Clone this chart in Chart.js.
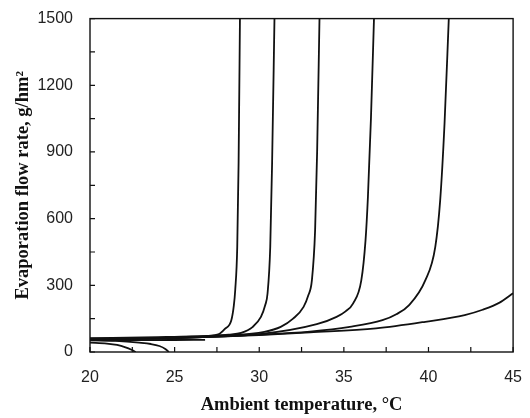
<!DOCTYPE html>
<html>
<head>
<meta charset="utf-8">
<script src="https://cdn.jsdelivr.net/npm/chart.js@4.4.0/dist/chart.umd.min.js"></script>
<style>
  body { margin: 0; background: #fff; }
  #wrap { width: 530px; height: 418px; }
</style>
</head>
<body>
<div id="wrap"><canvas id="grafico"></canvas></div>
<script>
// valores (temperatura em oC, taxa em g/hm2)
const temp1 = [20, 24, 26, 27, 27.58, 27.97, 28.35, 28.5, 28.58, 28.7, 28.78, 28.86];
const taxa1 = [62, 67, 70, 73, 79, 104, 143, 210, 278, 472, 850, 1500];

const temp2 = [20, 25, 27, 28.2, 28.93, 29.6, 30.1, 30.35, 30.49, 30.65, 30.76, 30.9];
const taxa2 = [60, 66, 72, 78, 86, 112, 158, 210, 263, 472, 850, 1500];

const temp3 = [20, 25, 28, 30.3, 31.27, 32.0, 32.62, 32.9, 33.11, 33.3, 33.42, 33.56];
const taxa3 = [58, 65, 75, 91, 113, 150, 203, 255, 322, 546, 900, 1500];

const temp4 = [20, 25, 30, 33.4, 34.57, 35.1, 35.54, 36.03, 36.28, 36.42, 36.6, 36.78];
const taxa4 = [57, 64, 80, 125, 158, 183, 218, 322, 502, 695, 1050, 1500];

const temp5 = [20, 25, 30, 33, 35.35, 37.28, 38.1, 38.84, 39.81, 40.4, 40.69, 40.95, 41.2];
const taxa5 = [56, 63, 78, 92, 113, 143, 170, 210, 322, 472, 681, 1030, 1500];

const temp6 = [20, 25, 30, 33, 36.9, 39.81, 42.14, 43.2, 44.2, 45];
const taxa6 = [55, 62, 76, 88, 106, 136, 166, 190, 222, 264];

const temp7 = [20, 23, 25, 26.8];
const taxa7 = [52, 53, 54, 55];

const temp8 = [20, 21, 21.6, 22.1, 22.45, 22.7];
const taxa8 = [42, 38, 32, 21, 10, 0];

const temp9 = [20, 21.5, 22.9, 23.6, 24.1, 24.45, 24.66];
const taxa9 = [54, 50, 42, 36, 27, 14, 0];

const ticksX = [20, 25, 30, 35, 40, 45];
const ticksY = [0, 300, 600, 900, 1200, 1500];

const curvas = [
  [temp1, taxa1], [temp2, taxa2], [temp3, taxa3], [temp4, taxa4], [temp5, taxa5],
  [temp6, taxa6], [temp7, taxa7], [temp8, taxa8], [temp9, taxa9]
];

const datasets = curvas.map(c => ({
  data: c[0].map((t, i) => ({ x: t, y: c[1][i] })),
  borderColor: '#111',
  borderWidth: 1.8,
  pointRadius: 0,
  fill: false,
  cubicInterpolationMode: 'monotone'
}));

// moldura e tracos internos dos eixos
const moldura = {
  id: 'moldura',
  afterDatasetsDraw(chart) {
    const ctx = chart.ctx;
    const a = chart.chartArea;
    const sx = chart.scales.x;
    const sy = chart.scales.y;
    ctx.save();
    ctx.strokeStyle = '#111';
    ctx.lineWidth = 1.4;
    ctx.strokeRect(a.left, a.top, a.right - a.left, a.bottom - a.top);
    ctx.lineWidth = 1.2;
    ctx.beginPath();
    for (let v = ticksX[0]; v <= ticksX[ticksX.length - 1]; v += 2.5) {
      const px = sx.getPixelForValue(v);
      ctx.moveTo(px, a.bottom);
      ctx.lineTo(px, a.bottom - 5);
    }
    for (let v = ticksY[0]; v <= ticksY[ticksY.length - 1]; v += 150) {
      const py = sy.getPixelForValue(v);
      ctx.moveTo(a.left, py);
      ctx.lineTo(a.left + 5, py);
    }
    ctx.stroke();
    ctx.restore();
  }
};

const fonteTicks = { family: 'Liberation Sans', size: 16 };
const fonteTitulo = { family: 'Liberation Serif', size: 18.5, weight: 'bold' };

const ctx = document.getElementById('grafico').getContext('2d');
new Chart(ctx, {
  type: 'line',
  data: { datasets: datasets },
  options: {
    responsive: true,
    maintainAspectRatio: false,
    animation: false,
    layout: { padding: { top: 17, right: 11, left: 0, bottom: 0 } },
    plugins: { legend: { display: false }, tooltip: { enabled: false } },
    scales: {
      x: {
        type: 'linear',
        min: 20,
        max: 45,
        afterBuildTicks: s => { s.ticks = ticksX.map(v => ({ value: v })); },
        afterFit: s => { s.height = 66; },
        grid: { display: false },
        border: { display: false },
        ticks: { font: fonteTicks, color: '#222', padding: 8, maxRotation: 0, callback: v => String(v) },
        title: { display: true, text: 'Ambient temperature, \u00b0C', font: fonteTitulo, color: '#111', padding: { top: 0, bottom: 2 } }
      },
      y: {
        min: 0,
        max: 1500,
        afterBuildTicks: s => { s.ticks = ticksY.map(v => ({ value: v })); },
        afterFit: s => { s.width = 90; },
        grid: { display: false },
        border: { display: false },
        ticks: { font: fonteTicks, color: '#222', padding: 9, callback: v => String(v) },
        title: { display: true, text: 'Evaporation flow rate, g/hm\u00b2', font: fonteTitulo, color: '#111', padding: { top: 12, bottom: 0 } }
      }
    }
  },
  plugins: [moldura]
});
</script>
</body>
</html>
